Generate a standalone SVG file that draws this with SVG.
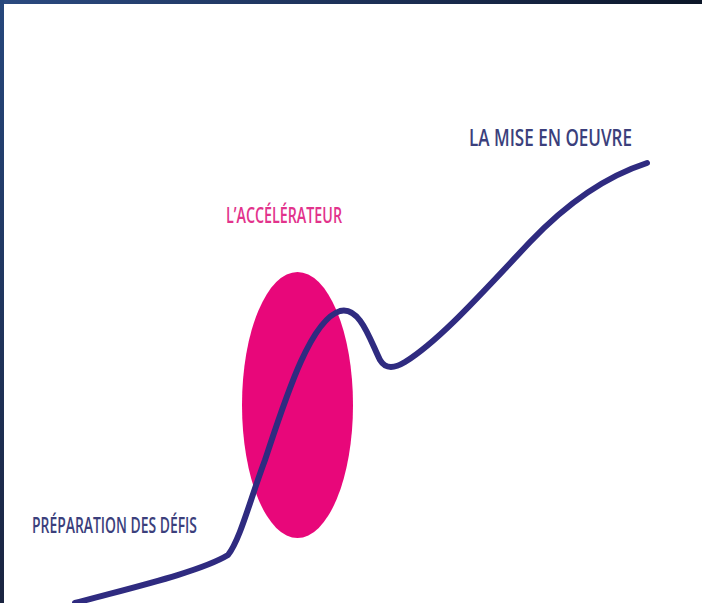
<svg xmlns="http://www.w3.org/2000/svg" width="702" height="603" viewBox="0 0 702 603">
  <defs>
    <linearGradient id="topbar" x1="0" y1="0" x2="1" y2="0">
      <stop offset="0" stop-color="#2b4a80"/>
      <stop offset="0.6" stop-color="#1a2c50"/>
      <stop offset="1" stop-color="#0c1628"/>
    </linearGradient>
    <linearGradient id="leftbar" x1="0" y1="0" x2="0" y2="1">
      <stop offset="0" stop-color="#26477c"/>
      <stop offset="1" stop-color="#1a2440"/>
    </linearGradient>
    <style>
      .lbl { font-family: "Open Sans", "Liberation Sans", sans-serif; font-weight: 600; }
      .navy { fill: #3b3f7c; }
      .pink { fill: #e2338c; }
      .curve { fill: none; stroke: #2f2b80; stroke-width: 6; stroke-linecap: round; stroke-linejoin: round; }
    </style>
  </defs>
  <rect x="0" y="0" width="702" height="603" fill="#ffffff"/>
  <rect x="0" y="0" width="702" height="4" fill="url(#topbar)"/>
  <rect x="0" y="0" width="4" height="603" fill="url(#leftbar)"/>

  <g id="accelerateur-zone">
    <ellipse cx="297.5" cy="405" rx="55.5" ry="133" fill="#e8077a"/>
  </g>

  <g id="connectors">
    <path class="curve" d="M75,603 C130,588 200,572 228,555 C240,540 250,500 265,460 C285,400 310,320 340,311 C360,306 370,340 380,360 C386,370 395,368 405,362 C440,340 480,295 530,242 C570,200 610,175 647,163"/>
  </g>

  <g id="label-accelerateur">
    <text class="lbl pink" x="226" y="223" font-size="21" textLength="116" lengthAdjust="spacingAndGlyphs">L’ACCÉLÉRATEUR</text>
  </g>
  <g id="label-mise-en-oeuvre">
    <text class="lbl navy" x="469" y="146" font-size="23" textLength="163" lengthAdjust="spacingAndGlyphs">LA MISE EN OEUVRE</text>
  </g>
  <g id="label-preparation">
    <text class="lbl navy" x="32" y="533" font-size="21" textLength="165" lengthAdjust="spacingAndGlyphs">PRÉPARATION DES DÉFIS</text>
  </g>
</svg>
